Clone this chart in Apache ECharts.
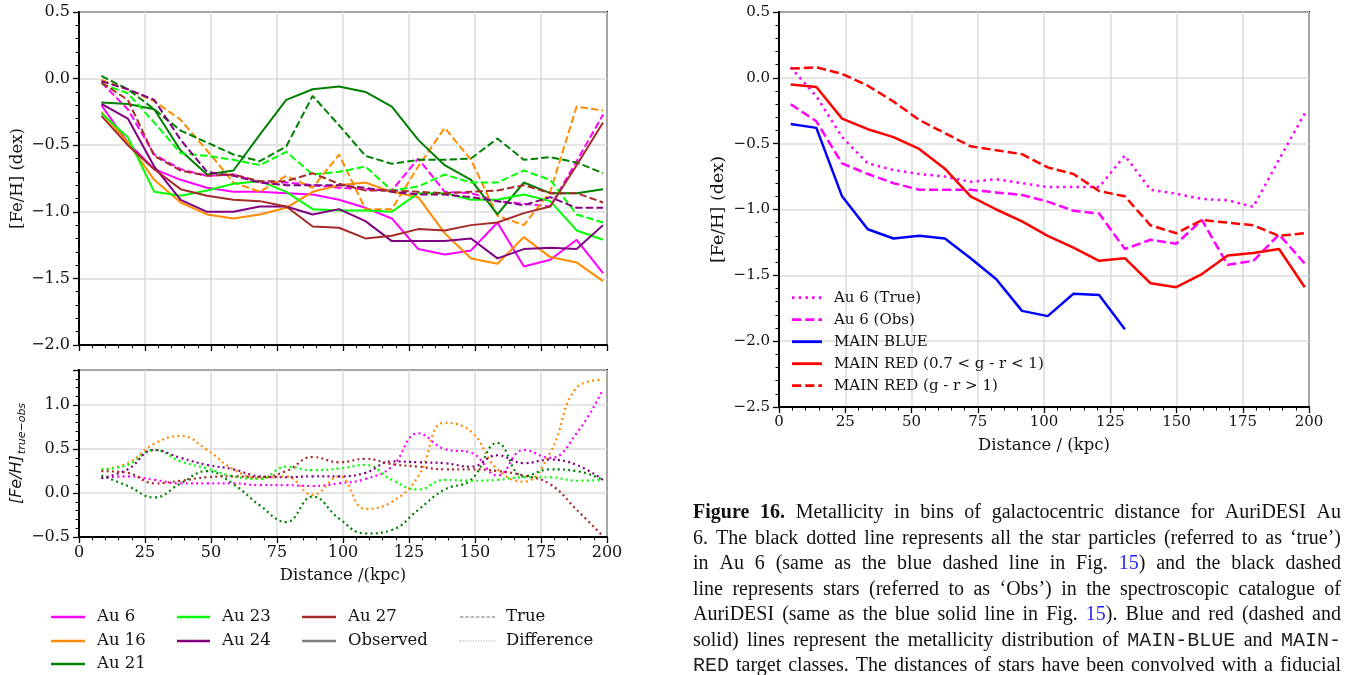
<!DOCTYPE html>
<html><head><meta charset="utf-8">
<script src="https://cdn.jsdelivr.net/npm/echarts@6/dist/echarts.min.js"></script>
<style>html,body{margin:0;padding:0;background:#fff}#c{width:1353px;height:675px}</style>
</head><body><div id="c"></div>
<script>
// ---------------- DATA ----------------
// Left panels: bin centres (kpc)
const distLeft = [8.5,18.5,28.5,38.5,48.5,58.5,68.5,78.5,88.5,98.5,108.5,118.5,128.5,138.5,148.5,158.5,168.5,178.5,188.5,198.5];
// Observed (solid)
const au6Obs  = [-0.20,-0.48,-0.68,-0.76,-0.82,-0.85,-0.85,-0.86,-0.87,-0.91,-0.97,-1.05,-1.28,-1.32,-1.29,-1.08,-1.41,-1.36,-1.21,-1.46];
const au16Obs = [-0.25,-0.48,-0.76,-0.93,-1.02,-1.05,-1.02,-0.97,-0.85,-0.80,-0.78,-0.85,-0.89,-1.16,-1.35,-1.39,-1.19,-1.34,-1.38,-1.52];
const au21Obs = [-0.18,-0.19,-0.23,-0.54,-0.72,-0.69,-0.42,-0.16,-0.08,-0.06,-0.10,-0.21,-0.46,-0.65,-0.76,-1.02,-0.78,-0.86,-0.86,-0.83];
const au23Obs = [-0.26,-0.44,-0.85,-0.88,-0.84,-0.79,-0.77,-0.85,-0.98,-0.99,-0.99,-1.00,-0.86,-0.86,-0.91,-0.91,-0.87,-0.92,-1.14,-1.21];
const au24Obs = [-0.19,-0.30,-0.66,-0.91,-1.00,-1.00,-0.96,-0.96,-1.02,-0.98,-1.07,-1.22,-1.22,-1.22,-1.20,-1.35,-1.28,-1.27,-1.28,-1.10];
const au27Obs = [-0.28,-0.50,-0.68,-0.83,-0.88,-0.91,-0.92,-0.96,-1.11,-1.12,-1.20,-1.18,-1.13,-1.14,-1.10,-1.08,-1.01,-0.96,-0.65,-0.33];
// True (dashed)
const au6True  = [-0.03,-0.23,-0.57,-0.68,-0.73,-0.72,-0.78,-0.78,-0.80,-0.82,-0.83,-0.84,-0.60,-0.85,-0.86,-0.92,-0.94,-0.96,-0.62,-0.27];
const au16True = [-0.01,-0.08,-0.17,-0.31,-0.54,-0.78,-0.85,-0.73,-0.82,-0.57,-0.98,-0.98,-0.66,-0.37,-0.61,-1.03,-1.10,-0.85,-0.21,-0.24];
const au21True = [0.02,-0.08,-0.23,-0.39,-0.48,-0.57,-0.62,-0.51,-0.13,-0.35,-0.58,-0.64,-0.61,-0.61,-0.60,-0.45,-0.61,-0.59,-0.63,-0.71];
const au23True = [-0.04,-0.11,-0.33,-0.56,-0.58,-0.61,-0.65,-0.55,-0.72,-0.70,-0.66,-0.84,-0.81,-0.72,-0.78,-0.78,-0.69,-0.76,-1.02,-1.08];
const au24True = [-0.02,-0.08,-0.16,-0.46,-0.70,-0.73,-0.78,-0.80,-0.80,-0.80,-0.82,-0.85,-0.87,-0.87,-0.89,-0.92,-0.95,-0.89,-0.97,-0.97];
const au27True = [-0.03,-0.16,-0.58,-0.69,-0.73,-0.72,-0.77,-0.77,-0.71,-0.79,-0.84,-0.84,-0.85,-0.86,-0.85,-0.84,-0.80,-0.86,-0.86,-0.93];
// Difference true - obs (dotted)
const au6Diff  = [0.17,0.19,0.15,0.11,0.11,0.11,0.09,0.09,0.08,0.11,0.16,0.30,0.68,0.50,0.46,0.20,0.49,0.40,0.68,1.18];
const au16Diff = [0.27,0.34,0.56,0.65,0.49,0.27,0.17,0.19,-0.02,0.19,-0.18,-0.10,0.19,0.80,0.70,0.27,0.13,0.46,1.20,1.29];
const au21Diff = [0.20,0.08,-0.05,0.11,0.25,0.10,-0.14,-0.33,-0.04,-0.29,-0.46,-0.42,-0.19,0.04,0.15,0.57,0.19,0.27,0.25,0.15];
const au23Diff = [0.27,0.32,0.49,0.36,0.28,0.19,0.16,0.30,0.26,0.28,0.32,0.15,0.04,0.15,0.14,0.15,0.18,0.18,0.14,0.15];
const au24Diff = [0.17,0.27,0.49,0.40,0.32,0.27,0.19,0.18,0.19,0.19,0.23,0.36,0.35,0.34,0.30,0.43,0.34,0.38,0.32,0.15];
const au27Diff = [0.25,0.23,0.11,0.14,0.18,0.19,0.18,0.25,0.41,0.35,0.39,0.33,0.30,0.27,0.27,0.25,0.20,0.10,-0.19,-0.49];
const modelNames = ['Au 6','Au 16','Au 21','Au 23','Au 24','Au 27'];

// Right panel
const distRight = [4.4,14.1,23.8,33.5,43.2,52.9,62.6,72.3,82.0,91.7,101.4,111.1,120.8,130.5,140.2,149.9,159.6,169.3,179.0,188.7,198.4];
const au6TrueR  = [0.08,-0.14,-0.45,-0.65,-0.70,-0.73,-0.75,-0.79,-0.77,-0.80,-0.83,-0.83,-0.83,-0.59,-0.85,-0.88,-0.92,-0.93,-0.98,-0.62,-0.27];
const au6ObsR   = [-0.20,-0.33,-0.65,-0.73,-0.80,-0.85,-0.85,-0.85,-0.87,-0.89,-0.94,-1.01,-1.03,-1.30,-1.23,-1.26,-1.08,-1.42,-1.39,-1.19,-1.41];
const mainBlue  = [-0.35,-0.38,-0.90,-1.15,-1.22,-1.20,-1.22,-1.37,-1.53,-1.77,-1.81,-1.64,-1.65,-1.91];
const mainRed   = [-0.05,-0.07,-0.31,-0.39,-0.45,-0.54,-0.69,-0.90,-1.00,-1.09,-1.20,-1.29,-1.39,-1.37,-1.56,-1.59,-1.49,-1.35,-1.33,-1.30,-1.59];
const mainRedGR = [0.07,0.08,0.03,-0.06,-0.18,-0.32,-0.42,-0.52,-0.55,-0.58,-0.68,-0.73,-0.86,-0.90,-1.12,-1.18,-1.08,-1.10,-1.12,-1.20,-1.18];
const rightNames = ['Au 6 (True)','Au 6 (Obs)','MAIN BLUE','MAIN RED (0.7 < g - r < 1)','MAIN RED (g - r > 1)'];

// Axis ranges / ticks
const xTicks = [0,25,50,75,100,125,150,175,200];
const yTopRange = [-2.0, 0.5];
const yDiffRange = [-0.5, 1.4];
const yRightRange = [-2.5, 0.5];

// Caption
const captionLines = [
 "**Figure 16.**  Metallicity in bins of galactocentric distance for AuriDESI Au",
 "6. The black dotted line represents all the star particles (referred to as \u2018true\u2019)",
 "in Au 6 (same as the blue dashed line in Fig. {15}) and the black dashed",
 "line represents stars (referred to as \u2018Obs\u2019) in the spectroscopic catalogue of",
 "AuriDESI (same as the blue solid line in Fig. {15}). Blue and red (dashed and",
 "solid) lines represent the metallicity distribution of `MAIN-BLUE` and `MAIN-`",
 "`RED` target classes. The distances of stars have been convolved with a fiducial"
];

// ---------------- STYLE ----------------
const colors = {'Au 6':'#ff00ff','Au 16':'#ff8c00','Au 21':'#008000','Au 23':'#00ff00','Au 24':'#800080','Au 27':'#a52a2a'};
const obsArr = [au6Obs,au16Obs,au21Obs,au23Obs,au24Obs,au27Obs];
const trueArr = [au6True,au16True,au21True,au23True,au24True,au27True];
const diffArr = [au6Diff,au16Diff,au21Diff,au23Diff,au24Diff,au27Diff];
const pairs = (xs, ys) => ys.map((y,i)=>[xs[i], y]);
const SERIF = 'DejaVu Serif';
const TXT = '#111';
const fmtNum = v => { const s = Math.abs(v).toFixed(1); return (v < -1e-9 ? '\u2212' : '') + s; };
const fmtHalf = v => Math.abs(v*2 - Math.round(v*2)) > 1e-6 ? '' : fmtNum(v);

function axisBase(gi, extra) {
  return Object.assign({
    type:'value', gridIndex: gi,
    axisLine:{show:true, onZero:false, lineStyle:{color:'#000', width:2}},
    axisTick:{show:true, length:6, inside:false, lineStyle:{color:'#000', width:1.3}},
    minorTick:{show:true, splitNumber:5, length:3.5, lineStyle:{color:'#000', width:1}},
    splitLine:{show:true, lineStyle:{color:'#dcdcdc', width:1.5}},
    minorSplitLine:{show:false}
  }, extra);
}

const series = [];
modelNames.forEach((n, i) => {
  series.push({name:n+' Observed', type:'line', xAxisIndex:0, yAxisIndex:0, data:pairs(distLeft, obsArr[i]), symbol:'none',
    lineStyle:{color:colors[n], width:2}, itemStyle:{color:colors[n]}, z:3});
  series.push({name:n+' True', type:'line', xAxisIndex:0, yAxisIndex:0, data:pairs(distLeft, trueArr[i]), symbol:'none',
    lineStyle:{color:colors[n], width:2, type:[7.4,3.2]}, itemStyle:{color:colors[n]}, z:3});
});
modelNames.forEach((n, i) => {
  series.push({name:n+' Difference', type:'line', xAxisIndex:1, yAxisIndex:1, data:pairs(distLeft, diffArr[i]), symbol:'none', smooth:0.45,
    lineStyle:{color:colors[n], width:2.2, type:[2,3.3]}, itemStyle:{color:colors[n]}, z:3});
});
const rightDefs = [
  {name:rightNames[0], data:au6TrueR, color:'#ff00ff', type:[2.5,4.2], legDash:[2.5,4.2]},
  {name:rightNames[1], data:au6ObsR, color:'#ff00ff', type:[9.2,4], legDash:[9.2,4]},
  {name:rightNames[2], data:mainBlue, color:'#0000ff', type:'solid', legDash:null},
  {name:rightNames[3], data:mainRed, color:'#ff0000', type:'solid', legDash:null},
  {name:rightNames[4], data:mainRedGR, color:'#ff0000', type:[9.2,4], legDash:[9.2,4]}
];
rightDefs.forEach(d => series.push({name:d.name, type:'line', xAxisIndex:2, yAxisIndex:2, data:pairs(distRight, d.data), symbol:'none',
  lineStyle:{color:d.color, width:2.5, type:d.type}, itemStyle:{color:d.color}, z:3}));

// ---------------- GRAPHIC (legends + caption) ----------------
const graphic = [];
const legRows = [617, 641, 664];
const legCols = [{x1:51,x2:85,tx:97},{x1:177,x2:210,tx:222},{x1:302,x2:336,tx:348},{x1:460,x2:495,tx:506}];
const legItems = [
  {c:0,r:0,label:'Au 6',color:colors['Au 6'],dash:null,w:2.5},
  {c:0,r:1,label:'Au 16',color:colors['Au 16'],dash:null,w:2.5},
  {c:0,r:2,label:'Au 21',color:colors['Au 21'],dash:null,w:2.5},
  {c:1,r:0,label:'Au 23',color:colors['Au 23'],dash:null,w:2.5},
  {c:1,r:1,label:'Au 24',color:colors['Au 24'],dash:null,w:2.5},
  {c:2,r:0,label:'Au 27',color:colors['Au 27'],dash:null,w:2.5},
  {c:2,r:1,label:'Observed',color:'#808080',dash:null,w:2.5},
  {c:3,r:0,label:'True',color:'#a0a0a0',dash:[3.5,1.8],w:1.5},
  {c:3,r:1,label:'Difference',color:'#b8b8b8',dash:[1,1.6],w:1.3}
];
legItems.forEach(it => {
  const col = legCols[it.c], y = legRows[it.r];
  graphic.push({type:'line', shape:{x1:col.x1,y1:y,x2:col.x2,y2:y}, style:{stroke:it.color, lineWidth:it.w, lineDash:it.dash}, silent:true});
  graphic.push({type:'text', x:col.tx, y:y, style:{text:it.label, fill:TXT, fontFamily:SERIF, fontSize:16.5, verticalAlign:'middle', align:'left'}, silent:true});
});
// right-panel legend (inside axes, lower left)
rightDefs.forEach((d, i) => {
  const y = 297.7 + i*22;
  graphic.push({type:'line', shape:{x1:792,y1:y,x2:822,y2:y}, style:{stroke:d.color, lineWidth:2.8, lineDash:d.legDash}, silent:true, z:10});
  graphic.push({type:'text', x:834, y:y, style:{text:d.name, fill:TXT, fontFamily:SERIF, fontSize:15, verticalAlign:'middle', align:'left'}, silent:true, z:10});
});

// caption with justified lines
const capFonts = {
  n:{family:'Liberation Serif', size:20, weight:'normal', color:'#111'},
  b:{family:'Liberation Serif', size:20, weight:'bold', color:'#111'},
  l:{family:'Liberation Serif', size:20, weight:'normal', color:'#1f1fff'},
  m:{family:'Liberation Mono', size:20, weight:'normal', color:'#222'}
};
function parseLine(line){
  const words=[]; let cur=[]; let style='n'; let buf='';
  const flush=()=>{ if(buf){cur.push({t:buf,s:style}); buf='';} };
  for(let i=0;i<line.length;i++){
    const ch=line[i];
    if(line.startsWith('**',i)){flush(); style = style==='b'?'n':'b'; i++; continue;}
    if(ch==='`'){flush(); style = style==='m'?'n':'m'; continue;}
    if(ch==='{'){flush(); style='l'; continue;}
    if(ch==='}'){flush(); style='n'; continue;}
    if(ch===' '){flush(); if(cur.length){words.push(cur); cur=[];} continue;}
    buf+=ch;
  }
  flush(); if(cur.length) words.push(cur);
  return words;
}
const mctx = document.createElement('canvas').getContext('2d');
function measure(run){ const f=capFonts[run.s]; mctx.font = f.weight+' '+f.size+'px "'+f.family+'"'; return mctx.measureText(run.t).width; }
const capLeft = 693, capRight = 1341, capY0 = 513, capDY = 25.5;
captionLines.forEach((line, li) => {
  const words = parseLine(line);
  const widths = words.map(w => w.reduce((a,r)=>a+measure(r),0));
  const total = widths.reduce((a,b)=>a+b,0);
  const gap = words.length>1 ? (capRight-capLeft-total)/(words.length-1) : 0;
  let x = capLeft; const y = capY0 + li*capDY;
  words.forEach((w) => {
    w.forEach(r => {
      const f = capFonts[r.s];
      graphic.push({type:'text', x:x, y:y, style:{text:r.t, fill:f.color, fontFamily:f.family, fontSize:f.size, fontWeight:f.weight, verticalAlign:'middle', align:'left'}, silent:true});
      x += measure(r);
    });
    x += gap;
  });
});

// ---------------- OPTION ----------------
const labelStyleL = {color:TXT, fontFamily:SERIF, fontSize:16};
const labelStyleR = {color:TXT, fontFamily:SERIF, fontSize:15};
const option = {
  backgroundColor:'#fff',
  animation:false,
  grid:[
    {left:79, top:12, width:528, height:333, show:true, borderColor:'#000', borderWidth:2, backgroundColor:'transparent'},
    {left:79, top:370, width:528, height:167, show:true, borderColor:'#000', borderWidth:2, backgroundColor:'transparent'},
    {left:779, top:12, width:530, height:395, show:true, borderColor:'#000', borderWidth:2, backgroundColor:'transparent'}
  ],
  xAxis:[
    axisBase(0, {min:xTicks[0], max:xTicks[xTicks.length-1], interval:25, axisLabel:{show:false}}),
    axisBase(1, {min:xTicks[0], max:xTicks[xTicks.length-1], interval:25, axisLabel:Object.assign({margin:8}, labelStyleL),
      name:'Distance /(kpc)', nameLocation:'middle', nameGap:30, nameTextStyle:{color:TXT, fontFamily:SERIF, fontSize:16.5}}),
    axisBase(2, {min:xTicks[0], max:xTicks[xTicks.length-1], interval:25, axisLabel:Object.assign({margin:8}, labelStyleR),
      name:'Distance / (kpc)', nameLocation:'middle', nameGap:30, nameTextStyle:{color:TXT, fontFamily:SERIF, fontSize:16.5}})
  ],
  yAxis:[
    axisBase(0, {min:yTopRange[0], max:yTopRange[1], interval:0.5, axisLabel:Object.assign({margin:9, formatter:fmtNum}, labelStyleL),
      name:'[Fe/H] (dex)', nameLocation:'middle', nameGap:53, nameTextStyle:{color:TXT, fontFamily:SERIF, fontSize:16.5}}),
    axisBase(1, {min:yDiffRange[0], max:yDiffRange[1], interval:0.5, axisLabel:Object.assign({margin:9, formatter:fmtHalf}, labelStyleL),
      name:'{a|[Fe/H]}{b|true\u2212obs}', nameLocation:'middle', nameGap:51,
      nameTextStyle:{rich:{a:{fontFamily:'DejaVu Sans', fontStyle:'italic', fontSize:16, color:TXT},
                           b:{fontFamily:'DejaVu Sans', fontStyle:'italic', fontSize:11, color:TXT, padding:[9,0,0,1]}}}}),
    axisBase(2, {min:yRightRange[0], max:yRightRange[1], interval:0.5, axisLabel:Object.assign({margin:9, formatter:fmtNum}, labelStyleR),
      name:'[Fe/H] (dex)', nameLocation:'middle', nameGap:52, nameTextStyle:{color:TXT, fontFamily:SERIF, fontSize:17.5}})
  ],
  series: series,
  graphic: graphic
};
const chart = echarts.init(document.getElementById('c'), null, {renderer:'canvas'});
chart.setOption(option);
</script>
</body></html>
